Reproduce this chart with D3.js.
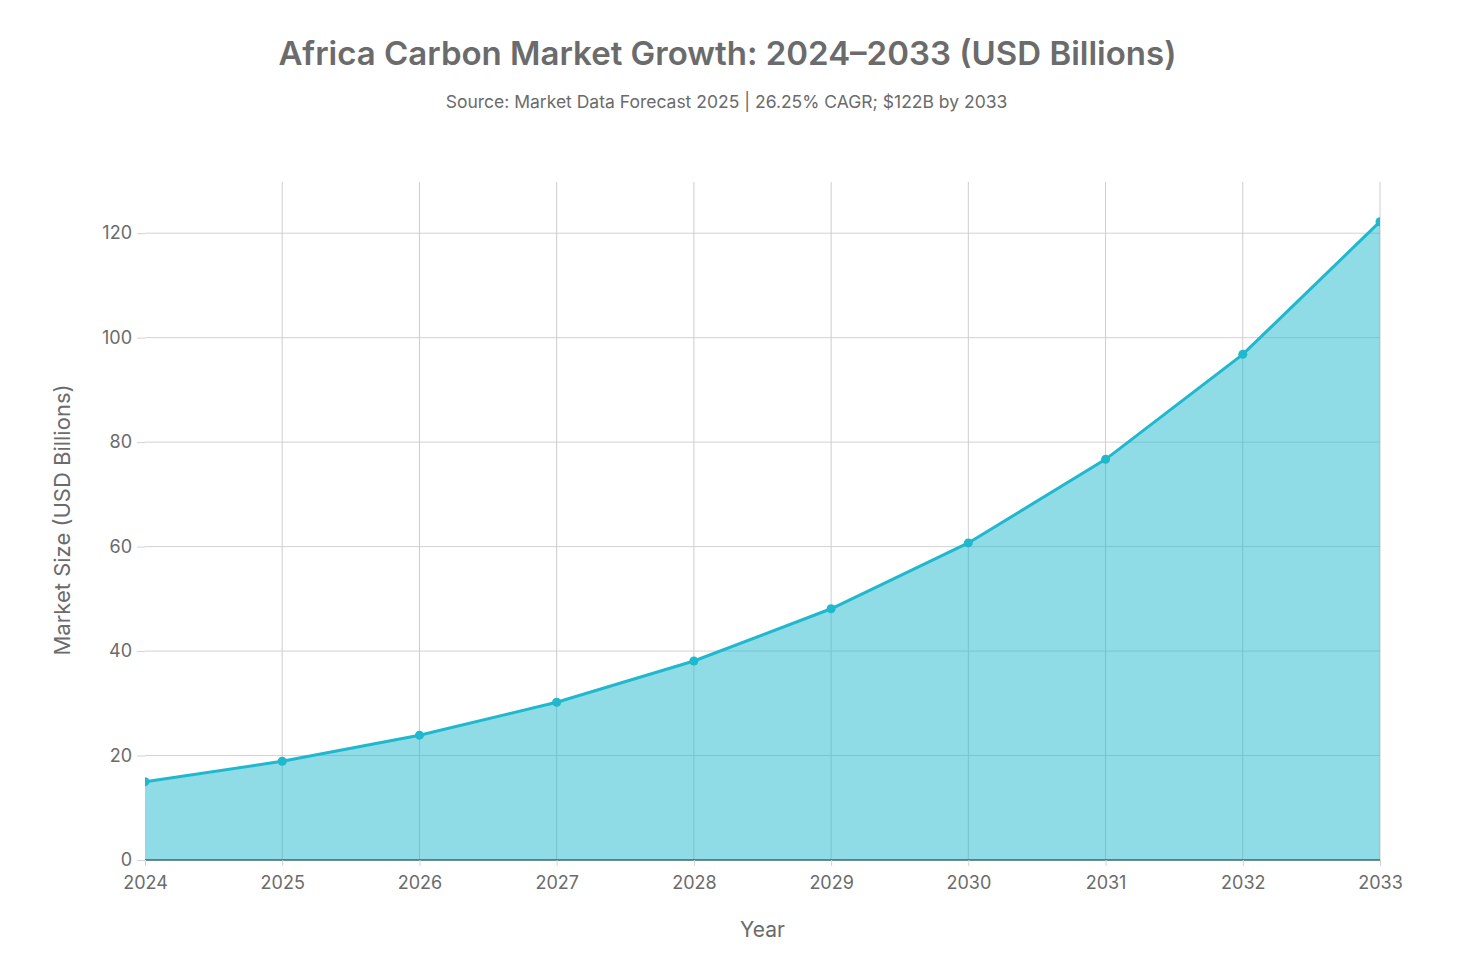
<!DOCTYPE html>
<html>
<head>
<meta charset="utf-8">
<script src="https://cdn.jsdelivr.net/npm/d3@7"></script>
<style>
  body { margin: 0; background: #fff; }
  text { font-family: Inter, "Liberation Sans", sans-serif; }
</style>
</head>
<body>
<div id="chart"></div>
<script>
// data
const years = [2024, 2025, 2026, 2027, 2028, 2029, 2030, 2031, 2032, 2033];
const marketSize = [15.0, 18.9, 23.9, 30.2, 38.1, 48.1, 60.7, 76.7, 96.8, 122.2];
const yTicks = [0, 20, 40, 60, 80, 100, 120];

const titleText = 'Africa Carbon Market Growth: 2024–2033 (USD Billions)';
const subtitleText = 'Source: Market Data Forecast 2025 | 26.25% CAGR; $122B by 2033';

const W = 1457, H = 974;
const margin = {top: 182, right: 77, bottom: 114, left: 145};
const width = W - margin.left - margin.right;
const height = H - margin.top - margin.bottom;

const data = years.map((yr, i) => ({year: yr, value: marketSize[i]}));

const svg = d3.select('#chart')
    .append('svg')
    .attr('width', W)
    .attr('height', H);

svg.append('text')
    .attr('x', W / 2 - 1)
    .attr('y', 65)
    .attr('text-anchor', 'middle')
    .attr('fill', '#6b6b6b')
    .style('font-size', '33px')
    .style('font-weight', 600)
    .text(titleText);

svg.append('text')
    .attr('x', W / 2 - 2)
    .attr('y', 108)
    .attr('text-anchor', 'middle')
    .attr('fill', '#6b6b6b')
    .style('font-size', '17.5px')
    .text(subtitleText);

const g = svg.append('g')
    .attr('transform', `translate(${margin.left},${margin.top})`);

const x = d3.scaleLinear()
    .domain([2024, 2033])
    .range([0, width]);

const y = d3.scaleLinear()
    .domain([0, 129.8])
    .range([height, 0]);

// grid
g.append('g')
    .selectAll('line')
    .data(yTicks.filter(d => d > 0))
    .enter()
    .append('line')
    .attr('x1', 0)
    .attr('x2', width)
    .attr('y1', d => y(d))
    .attr('y2', d => y(d))
    .attr('stroke', '#d2d2d2')
    .attr('stroke-width', 1);

g.append('g')
    .selectAll('line')
    .data(years.slice(1))
    .enter()
    .append('line')
    .attr('x1', d => x(d))
    .attr('x2', d => x(d))
    .attr('y1', 0)
    .attr('y2', height)
    .attr('stroke', '#cdcdcd')
    .attr('stroke-width', 1);

g.append('defs')
    .append('clipPath')
    .attr('id', 'plotClip')
    .append('rect')
    .attr('width', width)
    .attr('height', height);

const plot = g.append('g').attr('clip-path', 'url(#plotClip)');

const area = d3.area()
    .x(d => x(d.year))
    .y0(y(0))
    .y1(d => y(d.value));

plot.append('path')
    .datum(data)
    .attr('fill', 'rgba(31,184,205,0.5)')
    .attr('d', area);

const line = d3.line()
    .x(d => x(d.year))
    .y(d => y(d.value));

plot.append('path')
    .datum(data)
    .attr('fill', 'none')
    .attr('stroke', '#1fb8cd')
    .attr('stroke-width', 3)
    .attr('d', line);

plot.selectAll('circle')
    .data(data)
    .enter()
    .append('circle')
    .attr('cx', d => x(d.year))
    .attr('cy', d => y(d.value))
    .attr('r', 4.5)
    .attr('fill', '#1fb8cd');

// zero line
g.append('line')
    .attr('x1', 0)
    .attr('x2', width)
    .attr('y1', y(0))
    .attr('y2', y(0))
    .attr('stroke', '#3d6470')
    .attr('stroke-width', 1.5);

const xAxis = d3.axisBottom(x)
    .tickValues(years)
    .tickFormat(d3.format('d'))
    .tickSize(6)
    .tickPadding(10);

const yAxis = d3.axisLeft(y)
    .tickValues(yTicks)
    .tickSize(8)
    .tickPadding(5);

const xg = g.append('g')
    .attr('transform', `translate(0,${height})`)
    .call(xAxis);

const yg = g.append('g')
    .call(yAxis);

[xg, yg].forEach(ax => {
    ax.select('.domain').remove();
    ax.selectAll('.tick line').attr('stroke', '#d2d2d2');
    ax.selectAll('.tick text')
        .attr('fill', '#6b6b6b')
        .style('font-size', '18px')
        .style('font-family', 'Inter, "Liberation Sans", sans-serif');
});

g.append('text')
    .attr('x', width / 2)
    .attr('y', height + 77)
    .attr('text-anchor', 'middle')
    .attr('fill', '#6b6b6b')
    .style('font-size', '21px')
    .text('Year');

g.append('text')
    .attr('transform', 'rotate(-90)')
    .attr('x', -(520 - margin.top))
    .attr('y', -75)
    .attr('text-anchor', 'middle')
    .attr('fill', '#6b6b6b')
    .style('font-size', '22px')
    .text('Market Size (USD Billions)');
</script>
</body>
</html>
